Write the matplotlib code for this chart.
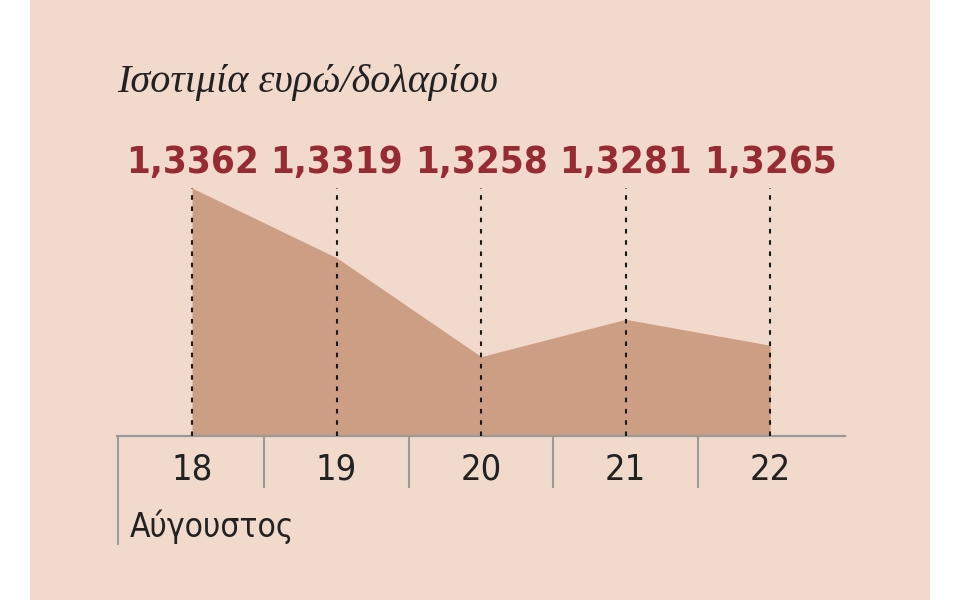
import matplotlib
matplotlib.use("Agg")
import matplotlib.pyplot as plt
from matplotlib.patches import Rectangle

# Euro / dollar rate, 18-22 August
days = [18, 19, 20, 21, 22]
rates = [1.3362, 1.3319, 1.3258, 1.3281, 1.3265]
rate_labels = ["1,3362", "1,3319", "1,3258", "1,3281", "1,3265"]
title = "Ισοτιμία ευρώ/δολαρίου"
month = "Αύγουστος"

bg = "#f1dacb"
fill_col = "#cc9f85"
red = "#962b33"
ink = "#222222"
grey = "#9a9a9a"

sans = ["DejaVu Sans"]

fig = plt.figure(figsize=(9.6, 6), dpi=100)
fig.patch.set_facecolor("white")
fig.add_artist(Rectangle((30/960, 0), 900/960, 1, transform=fig.transFigure,
                         facecolor=bg, edgecolor="none", zorder=-10))

ax = fig.add_axes([0.1218, 0.2733, 0.7588, 0.4133])
ax.set_facecolor("none")
ax.set_xlim(days[0] - 0.52, days[-1] + 0.52)
ax.set_ylim(1.3209, max(rates))

ax.fill_between(days, rates, 1.3209, color=fill_col, linewidth=0, zorder=1)
ax.vlines(days, 1.3209, max(rates), colors="#1a1a1a", linestyles=(0, (2.2, 3.2)),
          linewidth=1.5, zorder=3)

# value labels above each day
for d, lbl in zip(days, rate_labels):
    ax.annotate(lbl, xy=(d, 1), xycoords=("data", "axes fraction"),
                xytext=(0, 11), textcoords="offset points",
                ha="center", va="baseline", fontsize=27.5, fontweight="bold",
                fontstretch="condensed", color=red, family=sans)

for s in ["top", "left", "right"]:
    ax.spines[s].set_visible(False)
ax.spines["bottom"].set_color(grey)
ax.spines["bottom"].set_linewidth(1.6)
ax.set_yticks([])
ax.set_xticks(days)
ax.set_xticklabels([str(d) for d in days], fontsize=26, color=ink, family=sans,
                   fontstretch="condensed")
ax.tick_params(axis="x", length=0, pad=12)

# separators between days and the left bracket line
mids = [(a + b) / 2 for a, b in zip(days[:-1], days[1:])]
tr = ax.get_xaxis_transform()
ax.vlines(mids, 0, -0.21, transform=tr, colors=grey, linewidth=1.5, clip_on=False)
ax.vlines([days[0] - 0.52 + 0.01], 0, -0.44, transform=tr, colors=grey,
          linewidth=1.5, clip_on=False)

fig.text(130/960, 1 - 527/600, month, fontsize=24, color=ink, family=sans,
         fontstretch="condensed", ha="left", va="center")
fig.text(117/960, 1 - 92/600, title, fontsize=29, color=ink, style="italic",
         family=["Liberation Serif", "DejaVu Serif"], ha="left", va="baseline")

fig.savefig("out.png", dpi=100, facecolor=fig.get_facecolor())
